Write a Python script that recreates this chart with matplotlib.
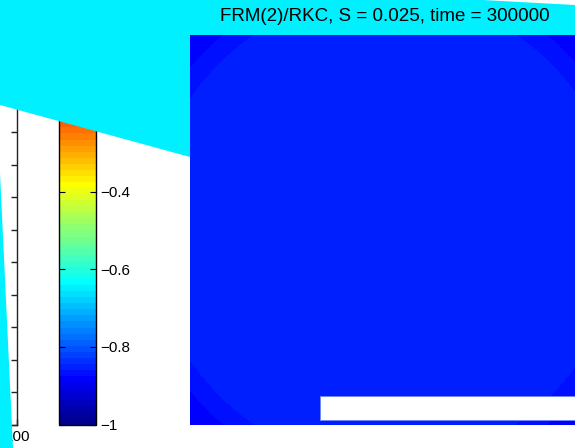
import numpy as np
import matplotlib
matplotlib.use('Agg')
import matplotlib.pyplot as plt
from matplotlib.colors import ListedColormap, Normalize
from matplotlib.patches import Polygon, Rectangle

# ---- data ----
title_text = "FRM(2)/RKC, S = 0.025, time = 300000"
band_radii = [1.205, 1.30]            # radial band edges (domain [-1,1]^2)
band_values = [-0.85, -0.865, -0.88]  # field value inside / between / outside
clim = [-1.0, 0.0]
cbar_ticks = [-1.0, -0.8, -0.6, -0.4, -0.2, 0.0]
cbar_labels = ['\u22121', '\u22120.8', '\u22120.6', '\u22120.4', '\u22120.2', '0']
left_yticks = [0, 10, 20, 30, 40, 50, 60, 70, 80, 90, 100, 110, 120]
left_xticks = [100]
left_xlabels = ['100']

plt.rcParams['font.family'] = ['Liberation Sans', 'DejaVu Sans']

def matlab_jet(n=64):
    m = int(np.ceil(n / 4))
    u = np.concatenate([np.arange(1, m + 1) / m, np.ones(m - 1), np.arange(m, 0, -1) / m])
    g = int(np.ceil(m / 2)) - (1 if n % 4 == 1 else 0) + np.arange(1, len(u) + 1)
    r = g + m
    b = g - m
    J = np.zeros((n, 3))
    for idx, val in zip(r, u):
        if 1 <= idx <= n:
            J[idx - 1, 0] = val
    for idx, val in zip(g, u):
        if 1 <= idx <= n:
            J[idx - 1, 1] = val
    for idx, val in zip(b, u):
        if 1 <= idx <= n:
            J[idx - 1, 2] = val
    return ListedColormap(J)

cmap = matlab_jet(64)
norm = Normalize(vmin=clim[0], vmax=clim[1])

W, H = 575, 448
fig = plt.figure(figsize=(W / 100, H / 100), dpi=100)

def fx(px):
    return px / W

def fy(py):
    return 1 - py / H

# field on the grid
n = 390
xs = np.linspace(-1, 1, n)
X, Y = np.meshgrid(xs, xs)
R = np.hypot(X, Y)
field = np.select([R < band_radii[0], R < band_radii[1]], band_values[:2], default=band_values[2])

# left (partially visible) axes
ax0 = fig.add_axes([fx(17.5 - 390), fy(424.5), 390 / W, (424.5 - 35) / H])
ax0.set_zorder(0)
ax0.set_xlim(0, 100)
ax0.set_ylim(0, 120)
ax0.set_yticks(left_yticks)
ax0.yaxis.tick_right()
ax0.tick_params(axis='y', direction='in', length=4, labelright=False, color='#222222', width=1)
ax0.set_xticks(left_xticks)
ax0.set_xticklabels(left_xlabels)
ax0.tick_params(axis='x', direction='in', length=4, labelsize=11, pad=4, color='#222222', width=1)
for s in ['top', 'left']:
    ax0.spines[s].set_visible(False)
for s in ['right', 'bottom']:
    ax0.spines[s].set_color('#222222')
    ax0.spines[s].set_linewidth(1.0)

# image axes
ax = fig.add_axes([fx(190), fy(425), 390 / W, 390 / H])
ax.set_zorder(2)
im = ax.imshow(field, cmap=cmap, norm=norm, extent=[-1, 1, -1, 1],
               interpolation='nearest', aspect='auto', origin='lower')
ax.axis('off')
ax.set_title(title_text, fontsize=13.5, pad=10)

# colorbar
cax = fig.add_axes([fx(59), fy(424.5), 37 / W, 388 / H])
cax.set_zorder(0)
cb = fig.colorbar(im, cax=cax)
cb.set_ticks(cbar_ticks)
cb.set_ticklabels(cbar_labels)
cax.tick_params(direction='in', left=True, right=True, length=4, labelsize=11, pad=3, width=0.8)
cb.outline.set_linewidth(1.0)
cb.outline.set_edgecolor('black')

# cyan occluding shapes and white box
cyan = '#00F0FF'
poly1 = [(0, 0), (483, 0), (575, 5), (575, 200), (190, 157), (0, 105)]
poly2 = [(0, 173), (13, 448), (0, 448)]
for pts in (poly1, poly2):
    fig.patches.append(Polygon([(fx(a), fy(b)) for a, b in pts], closed=True,
                               transform=fig.transFigure, facecolor=cyan,
                               edgecolor='none', zorder=1))
fig.patches.append(Rectangle((fx(320), fy(420)), fx(600) - fx(320), (420 - 396) / H,
                             transform=fig.transFigure, facecolor='white',
                             edgecolor='#7088ff', linewidth=0.7, zorder=3))

fig.savefig('out.png', dpi=100)
